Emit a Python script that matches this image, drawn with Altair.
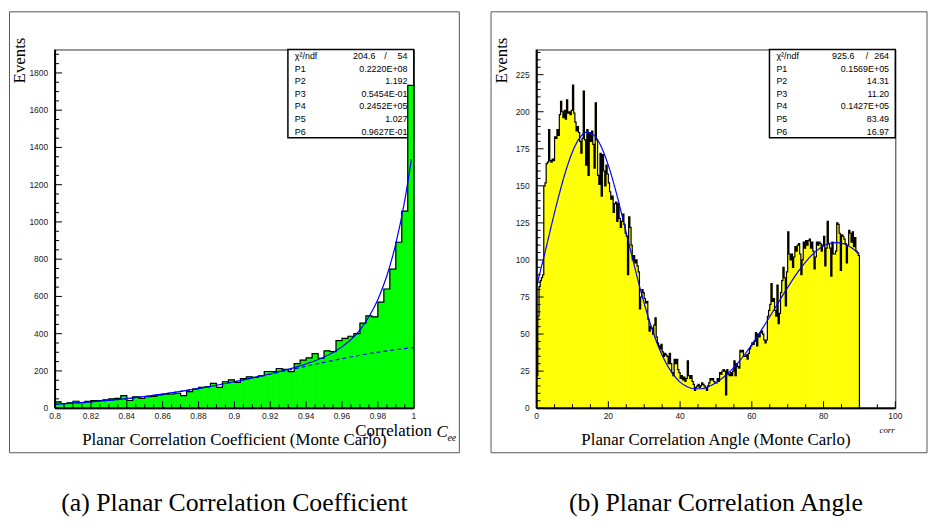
import altair as alt
import pandas as pd

# ---------------- data ----------------
left_range = [0.8, 1.0]          # histogram range, 60 bins
left_counts = [34, 25, 28, 37, 30, 36, 40, 41, 45, 50,
               53, 67, 41, 61, 52, 62, 63, 71, 75, 76,
               80, 67, 89, 103, 112, 115, 133, 112, 142, 152,
               138, 159, 168, 165, 174, 197, 197, 213, 208, 196,
               239, 258, 270, 293, 268, 308, 304, 363, 375, 386,
               400, 457, 496, 490, 569, 640, 747, 891, 1058, 1733]

right_range = [0.0, 90.0]        # histogram range, 270 bins
right_counts = [
    22, 62, 82, 86, 88, 90, 150, 152, 165, 166, 188, 167, 166, 168, 167,
    183, 182, 188, 184, 198, 207, 200, 196, 201, 195, 208, 199, 200, 198, 201,
    218, 199, 193, 187, 190, 186, 180, 172, 182, 214, 181, 164, 188, 157, 186,
    180, 187, 178, 162, 206, 181, 157, 151, 172, 143, 171, 160, 150, 164, 158,
    152, 146, 141, 143, 132, 138, 139, 126, 138, 128, 122, 126, 131, 124, 118,
    116, 90, 129, 122, 110, 100, 103, 98, 100, 96, 92, 67, 75, 80, 78,
    74, 71, 72, 60, 52, 55, 54, 50, 56, 61, 48, 44, 42, 40, 43,
    38, 35, 37, 36, 35, 30, 37, 30, 24, 22, 33, 30, 33, 26, 24,
    20, 22, 19, 21, 18, 20, 32, 22, 20, 22, 18, 16, 12, 14, 15,
    16, 14, 15, 17, 16, 15, 14, 12, 15, 17, 20, 19, 20, 18, 17,
    17, 20, 18, 24, 23, 25, 26, 25, 9, 26, 23, 22, 24, 22, 25,
    32, 22, 30, 28, 27, 39, 38, 39, 35, 35, 36, 33, 37, 40, 42,
    44, 43, 45, 51, 42, 50, 48, 51, 52, 50, 46, 44, 46, 62, 66,
    70, 84, 72, 74, 66, 62, 83, 57, 64, 78, 86, 95, 88, 69, 92,
    119, 104, 100, 104, 95, 102, 109, 106, 110, 111, 104, 90, 100, 112, 108,
    113, 110, 113, 114, 108, 112, 106, 94, 102, 112, 110, 112, 111, 106, 110,
    116, 96, 108, 126, 111, 108, 89, 112, 104, 104, 106, 125, 124, 118, 93,
    117, 116, 114, 111, 98, 110, 120, 118, 112, 119, 109, 115, 106, 105, 103]

left_fit_x = [0.80, 0.82, 0.84, 0.86, 0.88, 0.90, 0.92, 0.93, 0.94, 0.95,
              0.955, 0.96, 0.965, 0.97, 0.975, 0.98, 0.985, 0.99, 0.995, 0.9987]
left_fit_total = [21, 34, 51, 75, 106, 142, 185, 209, 238, 275,
                  299, 330, 369, 421, 491, 584, 711, 883, 1116, 1337]
left_bg_x = [0.80, 0.82, 0.84, 0.86, 0.88, 0.90, 0.92, 0.94, 0.96, 0.98, 1.00]
left_fit_bg = [21.0, 33.6, 51.4, 75.2, 105.6, 141.9, 182.7, 225.2, 265.8, 300.6, 325.6]

right_fit_x = [0, 2, 4, 6, 8, 10, 12, 14, 16, 18, 20, 22, 24, 26, 28, 30,
               32, 34, 36, 38, 40, 42, 44, 46, 48, 50, 52, 54, 56, 58, 60,
               62, 64, 66, 68, 70, 72, 74, 76, 78, 80, 82, 84, 86, 88, 90]
right_fit_y = [82.3, 101.8, 122.0, 141.5, 159.0, 173.0, 182.4, 186.2, 184.2, 176.5,
               163.8, 147.3, 128.2, 108.4, 88.8, 70.6, 54.6, 41.3, 30.8, 23.0,
               17.6, 14.4, 13.1, 13.1, 14.6, 17.2, 20.7, 25.0, 30.2, 36.2,
               42.9, 50.1, 57.8, 65.7, 73.7, 81.5, 88.9, 95.6, 101.4, 106.1,
               109.5, 111.4, 111.7, 110.6, 107.9, 103.9]

param_names = ["P1", "P2", "P3", "P4", "P5", "P6"]
left_params = ["0.2220E+08", "1.192", "0.5454E-01", "0.2452E+05", "1.027", "0.9627E-01"]
left_chi2 = ["204.6", "54"]
right_params = ["0.1569E+05", "14.31", "11.20", "0.1427E+05", "83.49", "16.97"]
right_chi2 = ["925.6", "264"]

left_xlabels = [0.8, 0.82, 0.84, 0.86, 0.88, 0.9, 0.92, 0.94, 0.96, 0.98, 1.0]
left_xlabel_text = ["0.8", "0.82", "0.84", "0.86", "0.88", "0.9", "0.92", "0.94", "0.96", "0.98", "1"]
left_ylabels = [0, 200, 400, 600, 800, 1000, 1200, 1400, 1600, 1800]
right_xlabels = [0, 20, 40, 60, 80, 100]
right_ylabels = [0, 25, 50, 75, 100, 125, 150, 175, 200, 225]

# ---------------- styling ----------------
SANS = "Liberation Sans"
SERIF = "Liberation Serif"
W = 362
H = 362
ONE = pd.DataFrame({"k": [0]})


def txt(s, x, y, size=9, align="left", font=SANS, style="normal", angle=None,
        baseline="middle", color="black"):
    kw = dict(text=s, fontSize=size, align=align, font=font, fontStyle=style,
              baseline=baseline, color=color)
    if angle is not None:
        kw["angle"] = angle
    return alt.Chart(ONE).mark_text(**kw).encode(x=alt.value(x), y=alt.value(y))


def panel(counts, hrange, xdomain, ymax, fill, xlabels, xlabel_text, ylabels,
          xmajor, xminor, ymajor, yminor, curves, params, chi2, chi_x, frame_right,
          xtitle, caption, extras):
    lo, hi = hrange
    nb = len(counts)
    w = (hi - lo) / nb
    bins = pd.DataFrame({"x0": [lo + i * w for i in range(nb)],
                         "x1": [lo + (i + 1) * w for i in range(nb)],
                         "c": counts})
    xs = [lo] + [lo + i * w for i in range(nb)] + [hi, hi]
    cs = [0] + list(counts) + [counts[-1], 0]
    outline = pd.DataFrame({"x": xs, "c": cs, "i": list(range(len(xs)))})

    xsc = alt.Scale(domain=xdomain, nice=False, zero=False)
    ysc = alt.Scale(domain=[0, ymax], nice=False, zero=False)

    layers = []
    # panel frame
    layers.append(alt.Chart(ONE).mark_rect(fillOpacity=0, stroke="#555", strokeWidth=1).encode(
        x=alt.value(-46), x2=alt.value(frame_right), y=alt.value(-38), y2=alt.value(407)))
    # stats box
    layers.append(alt.Chart(ONE).mark_rect(fill="white", stroke="black", strokeWidth=1.5).encode(
        x=alt.value(235), x2=alt.value(W), y=alt.value(0), y2=alt.value(89)))
    layers.append(txt("\u03c7\u00b2/ndf", 242, 6.5, size=9))
    layers.append(txt(chi2[0], chi_x, 6.5, size=9, align="right"))
    layers.append(txt("/", 333.4, 6.5, size=9, align="center"))
    layers.append(txt(chi2[1], 355.7, 6.5, size=9, align="right"))
    for k, (nm, val) in enumerate(zip(param_names, params)):
        yy = 19.25 + 12.75 * k
        layers.append(txt(nm, 242, yy, size=9))
        layers.append(txt(val, 355.7, yy, size=9, align="right"))

    # histogram fill (one rect per bin) and step outline
    layers.append(alt.Chart(bins).mark_rect(color=fill, stroke=fill, strokeWidth=0.6).encode(
        x=alt.X("x0:Q", scale=xsc, axis=None), x2="x1:Q",
        y=alt.Y("c:Q", scale=ysc, axis=None), y2=alt.datum(0)))
    layers.append(alt.Chart(outline).mark_line(interpolate="step-after", color="black", strokeWidth=1.2).encode(
        x=alt.X("x:Q", scale=xsc, axis=None),
        y=alt.Y("c:Q", scale=ysc, axis=None),
        order=alt.Order("i:Q")))

    # fit curves
    for cx, cy, dashed in curves:
        df = pd.DataFrame({"x": cx, "y": cy})
        kw = dict(color="#0000ff", strokeWidth=1.2, interpolate="monotone")
        if dashed:
            kw["strokeDash"] = [4, 3]
        layers.append(alt.Chart(df).mark_line(**kw).encode(
            x=alt.X("x:Q", scale=xsc, axis=None),
            y=alt.Y("y:Q", scale=ysc, axis=None)))

    # axis lines
    layers.append(alt.Chart(ONE).mark_rule(color="black", strokeWidth=2).encode(
        x=alt.value(0), y=alt.value(0), y2=alt.value(H)))
    layers.append(alt.Chart(ONE).mark_rule(color="black", strokeWidth=2).encode(
        x=alt.value(0), x2=alt.value(W), y=alt.value(H)))

    # inward ticks
    for vals, ln in ((ymajor, 7), (yminor, 4)):
        layers.append(alt.Chart(pd.DataFrame({"v": vals})).mark_rule(color="black", strokeWidth=1).encode(
            y=alt.Y("v:Q", scale=ysc, axis=None), x=alt.value(0), x2=alt.value(ln)))
    for vals, ln in ((xmajor, 7), (xminor, 4)):
        layers.append(alt.Chart(pd.DataFrame({"v": vals})).mark_rule(color="black", strokeWidth=1).encode(
            x=alt.X("v:Q", scale=xsc, axis=None), y=alt.value(H), y2=alt.value(H - ln)))

    # tick labels
    ylab = pd.DataFrame({"v": ylabels, "t": [str(v) for v in ylabels]})
    layers.append(alt.Chart(ylab).mark_text(align="right", baseline="middle", font=SANS,
                                            fontSize=8.5, color="#222").encode(
        y=alt.Y("v:Q", scale=ysc, axis=None), x=alt.value(-7), text="t:N"))
    xlab = pd.DataFrame({"v": xlabels, "t": xlabel_text})
    layers.append(alt.Chart(xlab).mark_text(align="center", baseline="middle", font=SANS,
                                            fontSize=8.5, color="#222").encode(
        x=alt.X("v:Q", scale=xsc, axis=None), y=alt.value(H + 8), text="t:N"))

    # titles
    layers.append(txt("Events", -35, -12, size=17, align="right", font=SERIF, angle=270))
    layers.append(txt(xtitle, 181, 394, size=17, align="center", font=SERIF))
    layers.append(txt(caption, 181, 458, size=26, align="center", font=SERIF))
    layers.extend(extras)

    return alt.layer(*layers).properties(width=W, height=H)


left_panel = panel(
    left_counts, left_range, [0.8, 1.0], 1926, "#00ff00",
    left_xlabels, left_xlabel_text, left_ylabels,
    [round(0.8 + 0.02 * i, 3) for i in range(11)],
    [round(0.8 + 0.005 * i, 3) for i in range(41) if i % 4],
    list(range(0, 1801, 200)),
    [v for v in range(50, 1926, 50) if v % 200],
    [(left_bg_x, left_fit_bg, True), (left_fit_x, left_fit_total, False)],
    left_params, left_chi2, 323.3, 408,
    "Planar Correlation Coefficient (Monte Carlo)",
    "(a) Planar Correlation Coefficient",
    [txt("Correlation", 303, 385, size=17, font=SERIF),
     txt("C", 385, 386, size=17, font=SERIF, style="italic"),
     txt("ee", 396, 392, size=10, font=SERIF, style="italic")])

right_panel = panel(
    right_counts, right_range, [0, 100], 242, "#ffff00",
    right_xlabels, [str(v) for v in right_xlabels], right_ylabels,
    list(range(0, 101, 20)),
    [v for v in range(5, 100, 5) if v % 20],
    list(range(0, 226, 25)),
    [v for v in range(5, 242, 5) if v % 25],
    [(right_fit_x, right_fit_y, False)],
    right_params, right_chi2, 320.7, 394,
    "Planar Correlation Angle (Monte Carlo)",
    "(b) Planar Correlation Angle",
    [txt("corr", 346, 384, size=9, font=SERIF, style="italic")])

chart = alt.hconcat(left_panel, right_panel, spacing=30).properties(
    padding={"left": 0.5, "top": 0.5, "right": 0, "bottom": 0},
    background="white",
).configure_view(stroke="#333", strokeWidth=1)

chart.save("out.html", embed_options={"renderer": "svg", "actions": False})
